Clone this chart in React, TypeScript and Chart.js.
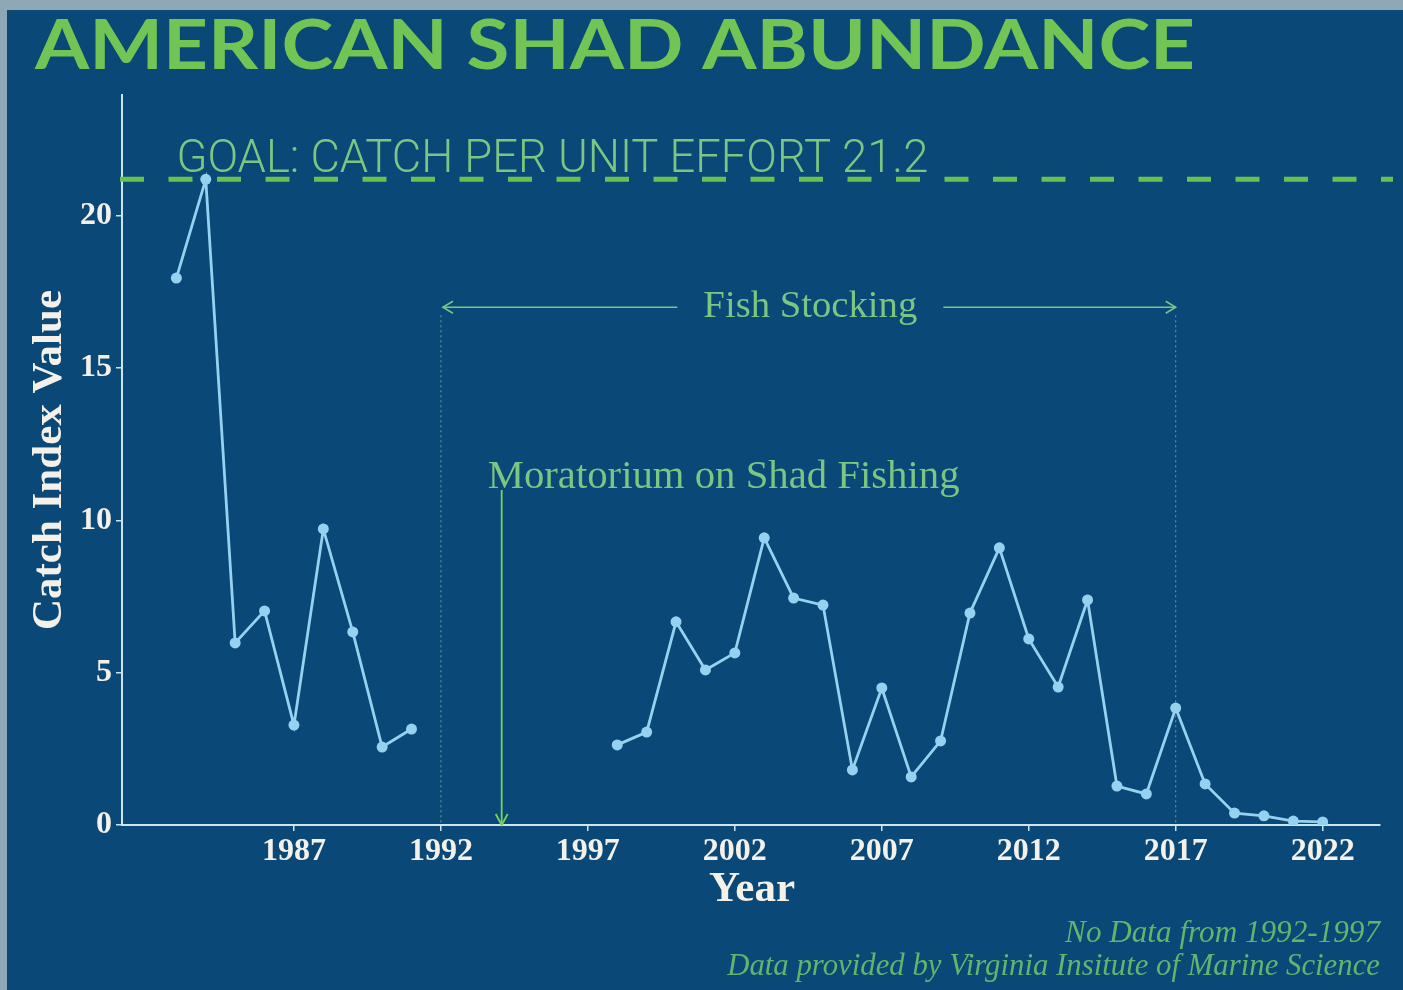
import React, { useEffect, useRef } from "react";
import { Chart, registerables } from "chart.js";

Chart.register(...registerables);

// ---------- data ----------
const years: number[] = [
  1983, 1984, 1985, 1986, 1987, 1988, 1989, 1990, 1991, 1992, 1993, 1994, 1995, 1996,
  1997, 1998, 1999, 2000, 2001, 2002, 2003, 2004, 2005, 2006, 2007, 2008, 2009, 2010,
  2011, 2012, 2013, 2014, 2015, 2016, 2017, 2018, 2019, 2020, 2021, 2022,
];
const catchIndex: (number | null)[] = [
  17.96, 21.2, 5.98, 7.03, 3.28, 9.72, 6.34, 2.56, 3.15,
  null, null, null, null, null, null,
  2.63, 3.05, 6.67, 5.09, 5.65, 9.43, 7.45, 7.22, 1.81, 4.5, 1.58, 2.76, 6.96,
  9.1, 6.11, 4.53, 7.39, 1.28, 1.02, 3.84, 1.35, 0.39, 0.3, 0.13, 0.1,
];
const xTickYears = [1987, 1992, 1997, 2002, 2007, 2012, 2017, 2022];
const yTickValues = [0, 5, 10, 15, 20];
const xRange = [1981.15, 2023.95];
const yRange = [0, 23.97];

const goalValue = 21.2;
const goalLabel = "GOAL: CATCH PER UNIT EFFORT 21.2";
const stockingYears = [1992, 2017];
const stockingLevel = 17;
const stockingLabel = "Fish Stocking";
const moratoriumYear = 1994;
const moratoriumLevel = 11;
const moratoriumLabel = "Moratorium on Shad Fishing";
const titleText = "AMERICAN SHAD ABUNDANCE";
const yTitle = "Catch Index Value";
const xTitle = "Year";
const notes = ["No Data from 1992-1997", "Data provided by Virginia Insitute of Marine Science"];

// ---------- styles ----------
const W = 1403;
const H = 990;
const NAVY = "#0a4877";
const FRAME = "#8ea8b5";
const TITLE_GREEN = "#72c455";
const GOAL_GREEN = "#67c24e";
const TEXT_GREEN = "#7cc582";
const NOTE_GREEN = "#62b56c";
const LINE_BLUE = "#96d2f0";
const AXIS = "#cde5ee";
const TICK_TXT = "#f4f1ea";
const SERIF = '"Liberation Serif", "DejaVu Serif", serif';

function fitFont(ctx: CanvasRenderingContext2D, text: string, tpl: (s: number) => string, target: number) {
  const base = 40;
  ctx.font = tpl(base);
  const w = ctx.measureText(text).width;
  const size = (base * target) / w;
  ctx.font = tpl(size);
  return size;
}

function chevron(ctx: CanvasRenderingContext2D, x: number, y: number, dir: "left" | "right" | "down") {
  ctx.beginPath();
  if (dir === "left") {
    ctx.moveTo(x + 10, y - 6);
    ctx.lineTo(x, y);
    ctx.lineTo(x + 10, y + 6);
  } else if (dir === "right") {
    ctx.moveTo(x - 10, y - 6);
    ctx.lineTo(x, y);
    ctx.lineTo(x - 10, y + 6);
  } else {
    ctx.moveTo(x - 6, y - 11);
    ctx.lineTo(x, y);
    ctx.lineTo(x + 6, y - 11);
  }
  ctx.stroke();
}

const decorPlugin = {
  id: "decor",
  beforeDraw(chart: any) {
    const ctx: CanvasRenderingContext2D = chart.ctx;
    ctx.save();
    ctx.fillStyle = FRAME;
    ctx.fillRect(0, 0, W, H);
    ctx.fillStyle = NAVY;
    ctx.fillRect(7, 10, W - 7, H - 10);
    // title: fixed cap height, stretched horizontally to the reference width
    ctx.fillStyle = TITLE_GREEN;
    ctx.textBaseline = "alphabetic";
    ctx.textAlign = "left";
    ctx.font = `bold 68px Lato, "Open Sans", sans-serif`;
    const tw = ctx.measureText(titleText).width;
    ctx.translate(35, 69);
    ctx.scale(1160 / tw, 1);
    ctx.fillText(titleText, 0, 0);
    ctx.restore();
  },
  beforeDatasetsDraw(chart: any) {
    const ctx: CanvasRenderingContext2D = chart.ctx;
    const xs = chart.scales.x;
    const ys = chart.scales.y;
    const area = chart.chartArea;
    ctx.save();
    // stocking dotted verticals
    ctx.strokeStyle = "rgba(150,185,170,0.75)";
    ctx.lineWidth = 1;
    ctx.setLineDash([2, 3]);
    for (const yr of stockingYears) {
      const px = xs.getPixelForValue(yr);
      ctx.beginPath();
      ctx.moveTo(px, ys.getPixelForValue(stockingLevel) + 8);
      ctx.lineTo(px, area.bottom);
      ctx.stroke();
    }
    // goal line
    const gy = ys.getPixelForValue(goalValue);
    ctx.setLineDash([24, 24.5]);
    ctx.strokeStyle = GOAL_GREEN;
    ctx.lineWidth = 5;
    ctx.beginPath();
    ctx.moveTo(area.left - 2, gy);
    ctx.lineTo(W - 10, gy);
    ctx.stroke();
    ctx.setLineDash([]);
    // goal label
    ctx.fillStyle = TEXT_GREEN;
    ctx.textAlign = "left";
    ctx.textBaseline = "alphabetic";
    fitFont(ctx, goalLabel, (s) => `300 ${s}px Roboto, "Open Sans", sans-serif`, 752);
    ctx.fillText(goalLabel, xs.getPixelForValue(1983), gy - 7);
    ctx.restore();
  },
  afterDraw(chart: any) {
    const ctx: CanvasRenderingContext2D = chart.ctx;
    const xs = chart.scales.x;
    const ys = chart.scales.y;
    const area = chart.chartArea;
    ctx.save();
    // Fish stocking
    const x1 = xs.getPixelForValue(stockingYears[0]);
    const x2 = xs.getPixelForValue(stockingYears[1]);
    const sy = ys.getPixelForValue(stockingLevel);
    const cx = (x1 + x2) / 2 + 2;
    ctx.fillStyle = TEXT_GREEN;
    ctx.strokeStyle = TEXT_GREEN;
    ctx.lineWidth = 1.6;
    ctx.textAlign = "center";
    ctx.textBaseline = "middle";
    fitFont(ctx, stockingLabel, (s) => `${s}px ${SERIF}`, 214);
    ctx.fillText(stockingLabel, cx, sy);
    const half = 107 + 26;
    ctx.beginPath();
    ctx.moveTo(x1 + 2, sy);
    ctx.lineTo(cx - half, sy);
    ctx.moveTo(cx + half, sy);
    ctx.lineTo(x2, sy);
    ctx.stroke();
    chevron(ctx, x1 + 2, sy, "left");
    chevron(ctx, x2, sy, "right");

    // Moratorium
    const mx = xs.getPixelForValue(moratoriumYear) + 2;
    const my = ys.getPixelForValue(moratoriumLevel);
    ctx.fillStyle = TEXT_GREEN;
    ctx.textAlign = "left";
    ctx.textBaseline = "alphabetic";
    fitFont(ctx, moratoriumLabel, (s) => `${s}px ${SERIF}`, 472);
    ctx.fillText(moratoriumLabel, mx - 14, my - 2);
    ctx.strokeStyle = "#78d25a";
    ctx.lineWidth = 1.8;
    ctx.beginPath();
    ctx.moveTo(mx, my);
    ctx.lineTo(mx, area.bottom);
    ctx.stroke();
    chevron(ctx, mx, area.bottom, "down");

    // axis titles
    ctx.fillStyle = TICK_TXT;
    ctx.save();
    ctx.translate(50, (area.top + area.bottom) / 2);
    ctx.rotate(-Math.PI / 2);
    ctx.textAlign = "center";
    ctx.textBaseline = "middle";
    fitFont(ctx, yTitle, (s) => `bold ${s}px ${SERIF}`, 340);
    ctx.fillText(yTitle, 0, 0);
    ctx.restore();
    ctx.textAlign = "center";
    ctx.textBaseline = "alphabetic";
    fitFont(ctx, xTitle, (s) => `bold ${s}px ${SERIF}`, 86);
    ctx.fillText(xTitle, 752, 901);

    // notes
    ctx.fillStyle = NOTE_GREEN;
    ctx.textAlign = "right";
    fitFont(ctx, notes[0], (s) => `italic ${s}px ${SERIF}`, 315);
    ctx.fillText(notes[0], 1380, 942);
    fitFont(ctx, notes[1], (s) => `italic ${s}px ${SERIF}`, 653);
    ctx.fillText(notes[1], 1380, 975);
    ctx.restore();
  },
};

export default function App() {
  const ref = useRef<HTMLCanvasElement | null>(null);
  useEffect(() => {
    if (!ref.current) return;
    const chart = new Chart(ref.current, {
      type: "line",
      data: {
        datasets: [
          {
            data: years.map((y, i) => ({ x: y, y: catchIndex[i] })) as any,
            borderColor: LINE_BLUE,
            backgroundColor: LINE_BLUE,
            borderWidth: 2.8,
            pointRadius: 5.5,
            pointBorderWidth: 0,
            pointBackgroundColor: LINE_BLUE,
            spanGaps: false,
            tension: 0,
          },
        ],
      },
      options: {
        responsive: false,
        animation: false,
        devicePixelRatio: 1,
        layout: { padding: { top: 95, right: 23, left: 0, bottom: 0 } },
        plugins: { legend: { display: false }, tooltip: { enabled: false }, title: { display: false } },
        scales: {
          x: {
            type: "linear",
            min: xRange[0],
            max: xRange[1],
            afterBuildTicks: (s: any) => {
              s.ticks = xTickYears.map((v) => ({ value: v }));
            },
            afterFit: (s: any) => {
              s.height = 165;
            },
            ticks: {
              color: TICK_TXT,
              font: { family: SERIF, size: 32, weight: "bold" },
              padding: 2,
              maxRotation: 0,
              autoSkip: false,
              callback: (v: any) => String(v),
            },
            grid: { drawOnChartArea: false, drawTicks: true, tickLength: 6, color: AXIS, lineWidth: 1.5 },
            border: { color: AXIS, width: 2 },
          },
          y: {
            min: yRange[0],
            max: yRange[1],
            afterBuildTicks: (s: any) => {
              s.ticks = yTickValues.map((v) => ({ value: v }));
            },
            afterFit: (s: any) => {
              s.width = 122;
            },
            ticks: {
              color: TICK_TXT,
              font: { family: SERIF, size: 32, weight: "bold" },
              padding: 4,
              callback: (v: any) => String(v),
            },
            grid: { drawOnChartArea: false, drawTicks: true, tickLength: 6, color: AXIS, lineWidth: 1.5 },
            border: { color: AXIS, width: 2 },
          },
        },
      } as any,
      plugins: [decorPlugin],
    });
    return () => chart.destroy();
  }, []);
  return (
    <div style={{ position: "fixed", left: 0, top: 0, width: W, height: H, overflow: "hidden" }}>
      <canvas ref={ref} width={W} height={H} style={{ display: "block", width: W, height: H }} />
    </div>
  );
}
